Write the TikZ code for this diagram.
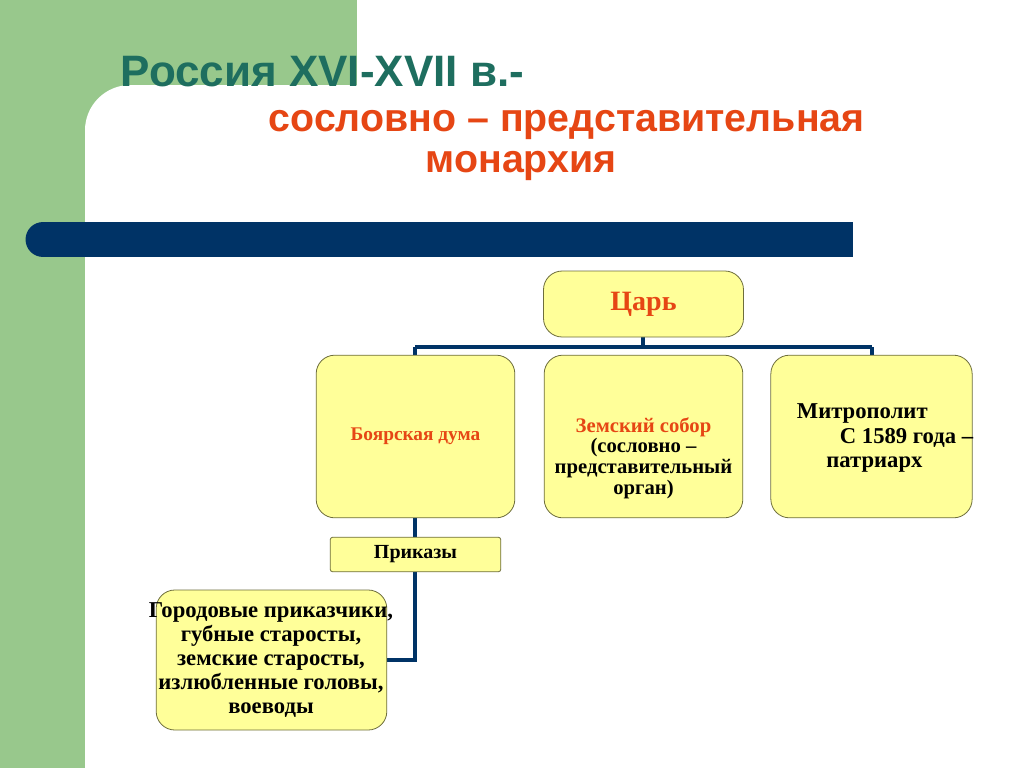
\documentclass[tikz,border=0pt]{standalone}
\usepackage{fontspec}
\setmainfont{Liberation Serif}
\newfontfamily\hsans{Liberation Sans}
\definecolor{bg}{RGB}{152,200,140}
\definecolor{navy}{RGB}{0,51,102}
\definecolor{teal1}{RGB}{30,110,95}
\definecolor{oranger}{RGB}{230,70,20}
\definecolor{ylw}{RGB}{255,255,153}
\definecolor{bord}{RGB}{110,110,60}
\begin{document}
\begin{tikzpicture}[x=0.75pt,y=-0.75pt,
  box/.style={draw=bord,fill=ylw,rounded corners=14pt,line width=0.6pt},
  conn/.style={draw=navy,line width=3.5pt},
  lbl/.style={font=\bfseries\fontsize{17}{18}\selectfont,align=center,text=black},
  red/.style={text=oranger}]
\useasboundingbox (0,0) rectangle (1024,768);
\fill[bg] (0,0) rectangle (357,768);
\fill[white] (85,768) [rounded corners=34pt]-- (85,85) [sharp corners]-- (1024,85) -- (1024,768) -- cycle;
\fill[white] (357,0) rectangle (1024,85);
\fill[navy] (43,239.5) circle[radius=13.1pt];
\fill[navy] (43,222) rectangle (853,257);
\node[anchor=west,font=\hsans\bfseries\fontsize{33}{35}\selectfont,text=teal1] (t1) at (116,72) {Россия XVI-XVII в.-};
\node[anchor=west,font=\hsans\bfseries\fontsize{29.5}{31}\selectfont,text=oranger] (t2) at (264,125) {сословно – представительная};
\node[anchor=west,font=\hsans\bfseries\fontsize{29.5}{31}\selectfont,text=oranger] (t3) at (421,166) {монархия};
\draw[conn] (643,337) -- (643,347) (415,347) -- (872,347) (415,347) -- (415,356) (872,347)--(872,356);
\draw[conn] (415,518) -- (415,660) -- (387,660);
\node[box,minimum width=150pt,minimum height=49.5pt,lbl,red,font=\bfseries\fontsize{21}{23}\selectfont] (tsar) at (643.5,304) {Царь};
\node[box,minimum width=149pt,minimum height=122pt,lbl,red,font=\bfseries\fontsize{14.5}{16}\selectfont] (bd) at (415.5,436.5) {Боярская дума};
\node[box,minimum width=149pt,minimum height=122pt] (zs) at (643.5,436.5) {};
\node[lbl,font=\bfseries\fontsize{15.5}{15.5}\selectfont] (zst) at (643.5,458) {\textcolor{oranger}{Земский собор}\\(сословно –\\представительный\\орган)};
\node[box,minimum width=151pt,minimum height=122pt] (mt) at (871.5,436.5) {};
\node[lbl,align=left,font=\bfseries\fontsize{17}{18.5}\selectfont] (mtt) at (885,438) {Митрополит\\\hspace{1.9em}С 1589 года –\\\hspace{1.3em}патриарх};
\node[box,rounded corners=2pt,minimum width=128pt,minimum height=26pt,lbl,font=\bfseries\fontsize{15}{16}\selectfont] (pr) at (415.5,554.5) {Приказы};
\node[box,minimum width=173pt,minimum height=105pt] (gp) at (271.5,660) {};
\node[lbl,font=\bfseries\fontsize{17}{18}\selectfont] (gpt) at (271,660) {Городовые приказчики,\\губные старосты,\\земские старосты,\\излюбленные головы,\\воеводы};
\end{tikzpicture}
\end{document}
